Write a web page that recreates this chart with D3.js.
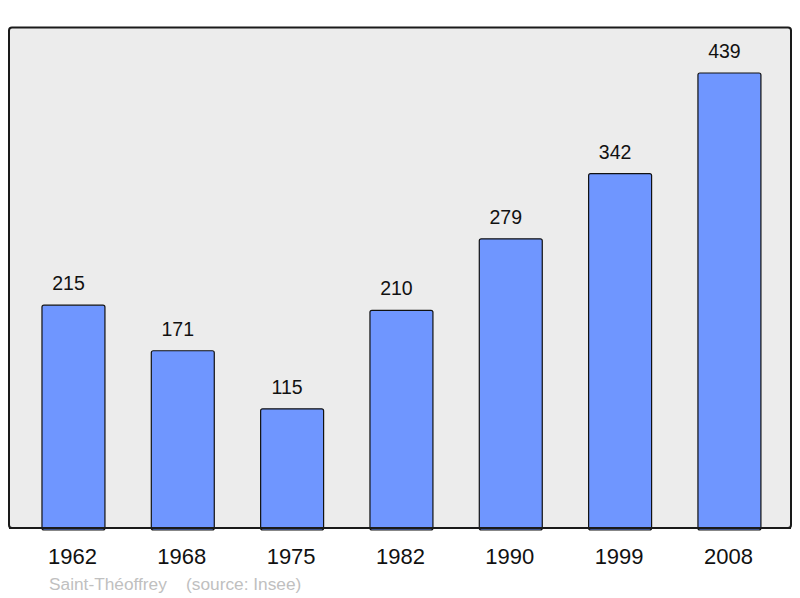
<!DOCTYPE html>
<html><head><meta charset="utf-8">
<script src="https://cdn.jsdelivr.net/npm/d3@7/dist/d3.min.js"></script>
<style>body{margin:0;background:#fff}svg{display:block}text{font-family:"Liberation Sans",Arial,sans-serif}</style>
</head><body>
<script>
const years = ["1962","1968","1975","1982","1990","1999","2008"];
const population = [215,171,115,210,279,342,439];
const footerText = "Saint-Théoffrey    (source: Insee)";

const W = 800, H = 598;
const svg = d3.select("body").append("svg").attr("width", W).attr("height", H);

svg.append("rect").attr("x", 9).attr("y", 27.5).attr("width", 782).attr("height", 500.5)
  .attr("rx", 3).attr("fill", "#ececec").attr("stroke", "#1a1a1a").attr("stroke-width", 2);

const x = d3.scaleBand().domain(years).range([18.8, 784.1]).paddingInner(0.424).paddingOuter(0.212);
const y = d3.scaleLinear().domain([0, d3.max(population)]).range([528, 73]);

const data = years.map((yr, i) => ({yr, v: population[i]}));

svg.selectAll("rect.bar").data(data).enter().append("rect").attr("class", "bar")
  .attr("x", d => x(d.yr)).attr("y", d => y(d.v))
  .attr("width", x.bandwidth()).attr("height", d => y(0) - y(d.v) + 2)
  .attr("rx", 2).attr("fill", "#6f96ff").attr("stroke", "#111").attr("stroke-width", 1.2);

svg.append("line").attr("x1", 9).attr("x2", 791).attr("y1", 528).attr("y2", 528)
  .attr("stroke", "#1a1a1a").attr("stroke-width", 2);

svg.selectAll("text.val").data(data).enter().append("text").attr("class", "val")
  .attr("x", d => x(d.yr) + x.bandwidth() / 2 - 5).attr("y", d => y(d.v) - 15)
  .attr("text-anchor", "middle").attr("font-size", 19.5).attr("fill", "#111")
  .text(d => d.v);

const xAxis = svg.append("g").attr("transform", "translate(0,528)")
  .call(d3.axisBottom(x).tickSize(0).tickPadding(0));
xAxis.select(".domain").remove();
xAxis.selectAll("text").attr("dy", null).attr("y", 36).attr("dx", -1).attr("font-size", 22)
  .attr("fill", "#111").attr("font-family", "Liberation Sans, Arial, sans-serif");

svg.append("text").attr("x", 49).attr("y", 590).attr("font-size", 17.3)
  .attr("fill", "#c0c0c0").style("white-space", "pre").text(footerText);
</script>
</body></html>
